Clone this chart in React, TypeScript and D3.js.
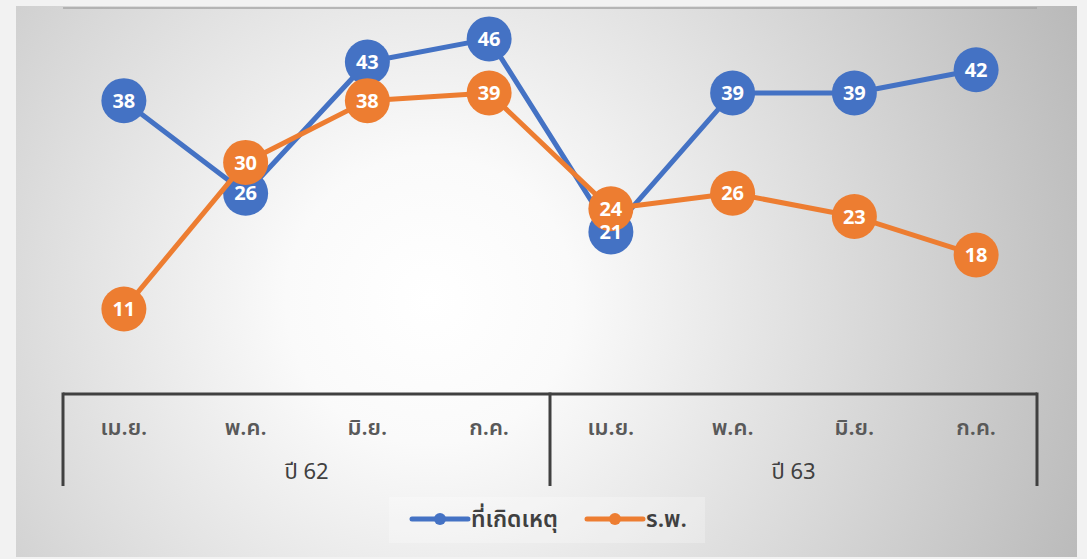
import React from "react";
import * as d3 from "d3";

const months = ["เม.ย.", "พ.ค.", "มิ.ย.", "ก.ค.", "เม.ย.", "พ.ค.", "มิ.ย.", "ก.ค."];
const years = ["ปี 62", "ปี 63"];
const seriesNames = ["ที่เกิดเหตุ", "ร.พ."];
const sceneValues = [38, 26, 43, 46, 21, 39, 39, 42];
const hospitalValues = [11, 30, 38, 39, 24, 26, 23, 18];
const colors = ["#4472C4", "#ED7D31"];

const W = 1087, H = 559;
const FONT = "'Segoe UI', 'Noto Sans Thai', 'Noto Sans', 'Open Sans', sans-serif";

export default function App() {
  const left = 63, right = 1037, top = 8, bottom = 394;
  const x = d3.scaleBand<number>().domain(d3.range(months.length)).range([left, right]);
  const y = d3.scaleLinear().domain([0, 50]).range([bottom, top]);
  const cx = (i: number) => (x(i) as number) + x.bandwidth() / 2;
  const line = d3.line<number>().x((_, i) => cx(i)).y((d) => y(d));
  const series = [sceneValues, hospitalValues];
  const groupW = (right - left) / years.length;

  return (
    <svg width={W} height={H} style={{ position: "absolute", left: 0, top: 0 }}>
      <defs>
        <radialGradient id="bg" gradientUnits="userSpaceOnUse" cx={430} cy={300} r={720}>
          <stop offset="0%" stopColor="#ffffff" />
          <stop offset="20%" stopColor="#fafafa" />
          <stop offset="100%" stopColor="#b8b8b8" />
        </radialGradient>
      </defs>
      <rect x={0} y={0} width={W} height={H} fill="#f2f2f2" />
      <rect x={16} y={6} width={1061} height={551} fill="url(#bg)" />
      <line x1={left} x2={right} y1={top} y2={top} stroke="#a6a6a6" strokeWidth={1.5} />

      {series.map((vals, s) => (
        <g key={s}>
          <path d={line(vals) || ""} fill="none" stroke={colors[s]} strokeWidth={5} strokeLinejoin="round" />
          {vals.map((v, i) => (
            <circle key={i} cx={cx(i)} cy={y(v)} r={22.5} fill={colors[s]} />
          ))}
        </g>
      ))}
      {series.map((vals, s) => (
        <g key={"l" + s}>
          {vals.map((v, i) => (
            <text key={"t" + i} x={cx(i)} y={y(v)} dy="0.36em" textAnchor="middle" fill="#fff"
              fontFamily={FONT} fontWeight={700} fontSize={20}>{v}</text>
          ))}
        </g>
      ))}

      {/* axis */}
      <line x1={left} x2={right} y1={bottom} y2={bottom} stroke="#404040" strokeWidth={3} />
      {[0, 1, 2].map((k) => (
        <line key={k} x1={left + k * groupW} x2={left + k * groupW} y1={bottom - 1.5} y2={486}
          stroke="#404040" strokeWidth={3} />
      ))}
      {months.map((m, i) => (
        <text key={i} x={cx(i)} y={427} dy="0.36em" textAnchor="middle" fill="#595959"
          fontFamily={FONT} fontWeight={600} fontSize={22}>{m}</text>
      ))}
      {years.map((yr, k) => (
        <text key={k} x={left + groupW * (k + 0.5)} y={471} dy="0.36em" textAnchor="middle" fill="#404040"
          fontFamily={FONT} fontSize={22}>{yr}</text>
      ))}

      {/* legend */}
      <rect x={389} y={497} width={316} height={46} fill="#ffffff" opacity={0.25} />
      {seriesNames.map((n, s) => {
        const lx = s === 0 ? 412 : 587;
        return (
          <g key={s}>
            <line x1={lx} x2={lx + 56} y1={519} y2={519} stroke={colors[s]} strokeWidth={5} strokeLinecap="round" />
            <circle cx={lx + 28} cy={519} r={6} fill={colors[s]} />
            <text x={lx + 59} y={519} dy="0.36em" fill="#404040" fontFamily={FONT} fontWeight={600} fontSize={23}>{n}</text>
          </g>
        );
      })}
    </svg>
  );
}
